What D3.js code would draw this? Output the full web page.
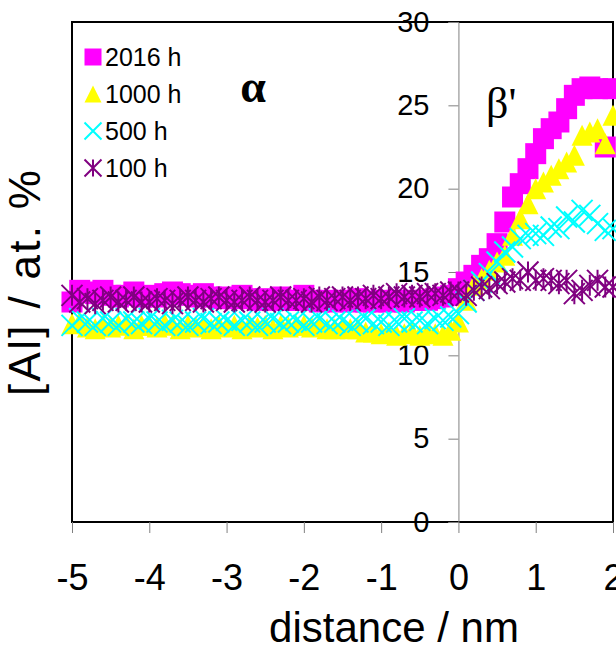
<!DOCTYPE html>
<html><head><meta charset="utf-8">
<script src="https://cdn.jsdelivr.net/npm/d3@7"></script>
<style>body{margin:0;background:#fff}svg{display:block}</style>
</head><body>
<svg id="c" width="616" height="648"></svg>
<script>
const xs = [-5.0,-4.9,-4.8,-4.7,-4.6,-4.5,-4.4,-4.3,-4.2,-4.1,-4.0,-3.9,-3.8,-3.7,-3.6,-3.5,-3.4,-3.3,-3.2,-3.1,
  -3.0,-2.9,-2.8,-2.7,-2.6,-2.5,-2.4,-2.3,-2.2,-2.1,-2.0,-1.9,-1.8,-1.7,-1.6,-1.5,-1.4,-1.3,-1.2,-1.1,
  -1.0,-0.9,-0.8,-0.7,-0.6,-0.5,-0.4,-0.3,-0.2,-0.1,0.0,0.1,0.2,0.3,0.4,0.5,0.6,0.7,0.8,0.9,
  1.0,1.1,1.2,1.3,1.4,1.5,1.6,1.7,1.8,1.9,2.0];
const al2016 = [13.2,13.9,13.8,13.7,13.9,13.6,13.5,13.6,13.8,13.5,13.6,13.5,13.7,13.8,13.7,13.6,13.5,13.7,13.5,13.4,
  13.5,13.4,13.6,13.4,13.3,13.4,13.3,13.5,13.3,13.3,13.6,13.3,13.2,13.3,13.2,13.3,13.2,13.4,13.2,13.2,
  13.3,13.2,13.3,13.2,13.3,13.3,13.3,13.4,13.5,13.6,14.0,14.4,14.8,15.4,15.8,16.7,18.0,19.5,20.3,21.2,
  22.1,23.0,23.6,24.0,24.8,25.6,26.0,26.1,26.0,22.5,26.0];
const al1000 = [11.9,12.0,11.7,11.6,11.8,11.7,11.8,11.9,11.6,11.8,11.8,11.7,11.9,11.8,11.6,11.8,11.7,11.8,11.6,11.8,
  11.7,11.8,11.6,11.8,11.7,11.8,11.6,11.8,11.7,11.8,11.8,11.7,11.8,11.6,11.6,11.7,11.6,11.6,11.4,11.4,
  11.3,11.4,11.2,11.3,11.4,11.2,11.4,11.3,11.2,11.5,12.0,13.3,14.2,14.6,15.1,15.6,16.0,17.2,18.2,19.1,
  20.0,20.4,20.8,21.2,21.6,22.0,23.2,23.4,23.6,22.7,24.4];
const al500 = [11.8,12.2,12.0,11.8,12.2,12.0,11.8,12.2,12.0,11.9,12.2,12.0,11.8,12.1,12.0,11.8,12.0,12.2,11.9,12.0,
  12.1,11.8,12.1,12.0,11.8,12.0,12.2,11.9,12.0,12.1,11.8,12.0,12.2,11.9,12.0,12.1,11.8,12.0,12.2,11.9,
  12.0,11.8,12.0,12.2,12.0,12.1,11.9,12.2,12.1,12.3,12.5,13.2,13.9,14.4,14.9,15.6,16.2,16.5,17.0,17.2,
  17.3,17.2,17.7,17.6,18.3,18.0,18.7,18.4,17.9,17.5,17.6];
const al100 = [13.6,13.2,13.4,13.1,13.3,13.5,13.2,13.3,13.5,13.2,13.2,13.4,13.3,13.1,13.3,13.5,13.3,13.2,13.4,13.5,
  13.3,13.2,13.3,13.5,13.3,13.2,13.3,13.5,13.3,13.3,13.4,13.2,13.5,13.3,13.4,13.5,13.3,13.5,13.4,13.6,
  13.4,13.5,13.7,13.5,13.6,13.5,13.7,13.7,13.6,13.8,13.8,13.6,13.9,14.1,14.0,14.3,14.4,14.6,14.5,15.0,
  14.5,14.6,14.5,14.3,14.5,13.7,13.9,14.2,14.5,14.1,14.1];
const seriesNames = ["2016 h","1000 h","500 h","100 h"];
const seriesColors = ["#ff00ff","#ffff00","#00ffff","#800080"];
const xTicks = [-5,-4,-3,-2,-1,0,1,2];
const yTicks = [0,5,10,15,20,25,30];

const svg = d3.select("#c");
const L=72, R=613, T=22, B=522;
const x = d3.scaleLinear().domain([-5,2]).range([L,R]);
const y = d3.scaleLinear().domain([0,30]).range([B,T]);
const font = "Liberation Sans, Arial, sans-serif";

function makeSyms(M){
  const h = M/2;
  return [
    {draw(c){ c.rect(-h,-h,M,M); }},
    {draw(c){ c.moveTo(0,-h); c.lineTo(h,h); c.lineTo(-h,h); c.closePath(); }},
    {draw(c){ c.moveTo(-h,-h); c.lineTo(h,h); c.moveTo(-h,h); c.lineTo(h,-h); }},
    {draw(c){ c.moveTo(-h,-h); c.lineTo(h,h); c.moveTo(-h,h); c.lineTo(h,-h); c.moveTo(0,-h); c.lineTo(0,h); }}
  ];
}
const syms = makeSyms(21);
const legSyms = makeSyms(17);
const filled = [true,true,false,false];
const data = [al2016, al1000, al500, al100];

// frame
svg.append("rect").attr("x",L).attr("y",T).attr("width",R-L).attr("height",B-T)
  .attr("fill","none").attr("stroke","#000").attr("stroke-width",2);

// y axis at x=0
const yAxis = d3.axisLeft(y).tickValues(yTicks).tickSize(10).tickPadding(19).tickFormat(d=>String(d));
const gy = svg.append("g").attr("transform",`translate(${x(0)},0)`).call(yAxis);
gy.select(".domain").attr("stroke","#808080").attr("stroke-width",1);
gy.selectAll(".tick line").attr("stroke","#808080");
gy.selectAll("text").attr("font-family",font).attr("font-size",29).attr("fill","#000");

// x axis
const xAxis = d3.axisBottom(x).tickValues(xTicks).tickSize(11).tickPadding(31).tickFormat(d=>String(d));
const gx = svg.append("g").attr("transform",`translate(0,${B})`).call(xAxis);
gx.select(".domain").remove();
gx.selectAll(".tick line").attr("stroke","#808080");
gx.selectAll("text").attr("font-family",font).attr("font-size",36).attr("fill","#000");

// series
data.forEach((vals,i)=>{
  const g = svg.append("g");
  g.selectAll("path").data(vals).join("path")
    .attr("d", d3.symbol().type(syms[i]))
    .attr("transform",(d,j)=>`translate(${x(xs[j])},${y(d)})`)
    .attr("fill", filled[i]? seriesColors[i] : "none")
    .attr("stroke", filled[i]? "none" : seriesColors[i])
    .attr("stroke-width", 2);
});

// legend
const lg = svg.append("g");
seriesNames.forEach((n,i)=>{
  const cy = 57 + i*37, cx = 93;
  lg.append("path").attr("d", d3.symbol().type(legSyms[i])())
    .attr("transform",`translate(${cx},${cy})`)
    .attr("fill", filled[i]? seriesColors[i] : "none")
    .attr("stroke", filled[i]? "none" : seriesColors[i]).attr("stroke-width",2);
  lg.append("text").attr("x",105).attr("y",cy+9).attr("font-family",font).attr("font-size",25).text(n);
});

// phase labels
svg.append("text").attr("x",253).attr("y",102).attr("text-anchor","middle")
  .attr("font-family","Liberation Serif, Times New Roman, serif").attr("font-weight","bold").attr("font-size",46).text("α");
svg.append("text").attr("x",486).attr("y",118)
  .attr("font-family","Liberation Serif, Times New Roman, serif").attr("font-size",44).text("β'");

// titles
svg.append("text").attr("x",394).attr("y",642).attr("text-anchor","middle")
  .attr("font-family",font).attr("font-size",42).text("distance / nm");
svg.append("text").attr("transform","translate(40,283) rotate(-90)").attr("text-anchor","middle")
  .attr("font-family",font).attr("font-size",44)
  .attr("textLength",226).attr("lengthAdjust","spacing").text("[Al] / at. %");
</script>
</body></html>
